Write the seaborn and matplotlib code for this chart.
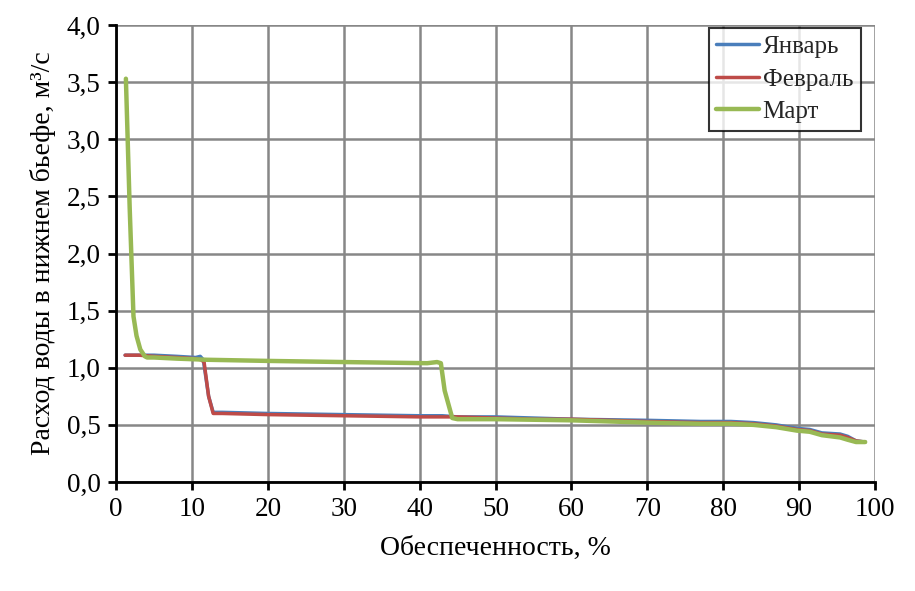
#chart of discharge duration curves for the tailwater
import matplotlib
matplotlib.use("Agg")
import matplotlib.pyplot as plt
import seaborn as sns
import numpy as np
import pandas as pd

sns.set_theme(style="white")
plt.rcParams["font.family"] = ["Liberation Serif", "DejaVu Serif"]

#values: probability (%) and discharge (m3/s)
jan_x = [1.2, 3, 5, 8, 10.5, 11.1, 11.5, 12.2, 12.8, 14, 20, 30, 40, 43, 45, 50, 55, 60,
         70, 77, 81, 84, 87, 89.7, 91.4, 93, 95.4, 96.4, 97.5, 98.7]
jan_y = [1.11, 1.11, 1.11, 1.10, 1.09, 1.10, 1.07, 0.75, 0.61, 0.61, 0.60, 0.59, 0.58, 0.58, 0.57, 0.57, 0.56, 0.55,
         0.54, 0.53, 0.53, 0.52, 0.50, 0.47, 0.46, 0.43, 0.42, 0.40, 0.36, 0.35]

feb_x = [1.2, 3, 5, 8, 10.5, 11.2, 11.6, 12.2, 12.8, 14, 20, 30, 40, 43, 45, 50, 55, 60,
         70, 77, 81, 84, 87, 89.7, 91.4, 93, 95.4, 96.4, 97.5, 98.7]
feb_y = [1.11, 1.11, 1.10, 1.09, 1.08, 1.07, 1.05, 0.75, 0.60, 0.60, 0.59, 0.58, 0.57, 0.57, 0.57, 0.56, 0.55, 0.55,
         0.53, 0.52, 0.52, 0.51, 0.49, 0.46, 0.45, 0.42, 0.41, 0.39, 0.36, 0.35]

mar_x = [1.3, 1.8, 2.3, 2.7, 3.2, 3.8, 4.1, 5, 8, 12, 20, 30, 41, 42.3, 42.8, 43.3, 44.3, 45,
         50, 60, 70, 77, 81, 84, 87, 89.7, 91.4, 93, 95.4, 96.4, 97.5, 98.7]
mar_y = [3.53, 2.40, 1.45, 1.28, 1.16, 1.10, 1.09, 1.09, 1.08, 1.07, 1.06, 1.05, 1.04, 1.05, 1.04, 0.80, 0.56, 0.55,
         0.55, 0.54, 0.52, 0.51, 0.51, 0.50, 0.48, 0.45, 0.44, 0.41, 0.39, 0.37, 0.35, 0.35]

df = pd.concat([
    pd.DataFrame({"x": jan_x, "y": jan_y, "month": "Январь"}),
    pd.DataFrame({"x": feb_x, "y": feb_y, "month": "Февраль"}),
    pd.DataFrame({"x": mar_x, "y": mar_y, "month": "Март"}),
])

palette = {"Январь": "#4A7EBB", "Февраль": "#BE4B48", "Март": "#98B954"}
widths = {"Январь": 2.5, "Февраль": 2.5, "Март": 3.2}

fig = plt.figure(figsize=(9.15, 5.91), dpi=100)
ax = fig.add_axes([0.1268, 0.1844, 0.8295, 0.7733])

for m in ["Январь", "Февраль", "Март"]:
    sns.lineplot(data=df[df["month"] == m], x="x", y="y", color=palette[m],
                 linewidth=widths[m], label=m, ax=ax, sort=False)

ax.set_xlim(0, 100)
ax.set_ylim(0, 4)
ax.set_xticks(np.arange(0, 101, 10))
ax.set_yticks(np.arange(0, 4.01, 0.5))
ax.set_yticklabels(["{:.1f}".format(v).replace(".", ",") for v in np.arange(0, 4.01, 0.5)])
ax.grid(True, color="#878787", linewidth=1.8)
for side in ["top", "right"]:
    ax.spines[side].set_visible(False)
for side in ["left", "bottom"]:
    ax.spines[side].set_color("black")
    ax.spines[side].set_linewidth(2)
ax.tick_params(axis="both", direction="out", length=6, width=2, color="black",
               labelsize=19.5, labelcolor="black", bottom=True, left=True, pad=5)
ax.set_xlabel("Обеспеченность, %", fontsize=20, color="black", labelpad=10)
ax.set_ylabel("Расход воды в нижнем бьефе, м³/с", fontsize=20, color="black", labelpad=8)

leg = ax.legend(loc="upper right", fontsize=18, frameon=True, fancybox=False,
                edgecolor="black", handlelength=1.7, handletextpad=0.15, borderpad=0.3,
                labelspacing=0.4, borderaxespad=0, bbox_to_anchor=(0.981, 0.993))
leg.get_frame().set_linewidth(1.5)

fig.savefig("out.png", dpi=100)
